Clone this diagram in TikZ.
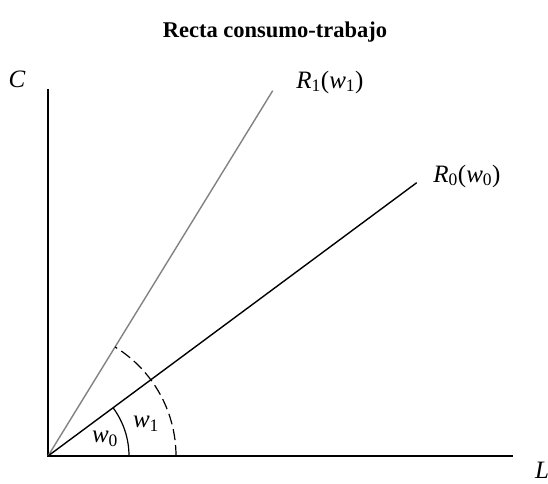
\documentclass[tikz,border=0pt]{standalone}
\usepackage{fontspec}
\setmainfont{Liberation Serif}
\usetikzlibrary{calc}
\definecolor{linegray}{RGB}{130,130,130}
\begin{document}
\begin{tikzpicture}[x=1pt,y=1pt,
  lbl/.style={inner sep=0pt, font=\fontsize{25}{28}\selectfont},
  axisline/.style={line width=1.3pt, black},
  rline/.style={line width=1.4pt},
  arcsolid/.style={line width=1.2pt},
  arcdash/.style={line width=1.2pt, dash pattern=on 11pt off 5pt}]
\useasboundingbox (0,0) rectangle (548,483);
\coordinate (O) at (48,27);
\coordinate (ytop) at (48,394);
\coordinate (xend) at (513,27);
\coordinate (r1end) at (272.7,392.3);
\coordinate (r0end) at (416.7,300.3);
\draw[axisline] (ytop) -- (O) -- (xend);
\draw[rline, linegray] (O) -- (r1end);
\draw[rline, black] (O) -- (r0end);
\draw[arcsolid] ($(O)+(81,0)$) arc[start angle=0, end angle=36.55, radius=81];
\draw[arcdash] ($(O)+(128,0)$) arc[start angle=0, end angle=58.4, radius=128];
\node[inner sep=0pt, font=\fontsize{22.5}{26}\selectfont\bfseries] (title) at (275,451) {Recta consumo-trabajo};
\node[lbl] (lC) at (17,404) {\textit{C}};
\node[lbl] (lL) at (542,13) {\textit{L}};
\node[lbl] (lR1) at (330,401) {\textit{R}\textsubscript{1}(\textit{w}\textsubscript{1})};
\node[lbl] (lR0) at (467,307) {\textit{R}\textsubscript{0}(\textit{w}\textsubscript{0})};
\node[lbl] (lw0) at (105,44) {\textit{w}\textsubscript{0}};
\node[lbl] (lw1) at (146,59) {\textit{w}\textsubscript{1}};
\end{tikzpicture}
\end{document}
